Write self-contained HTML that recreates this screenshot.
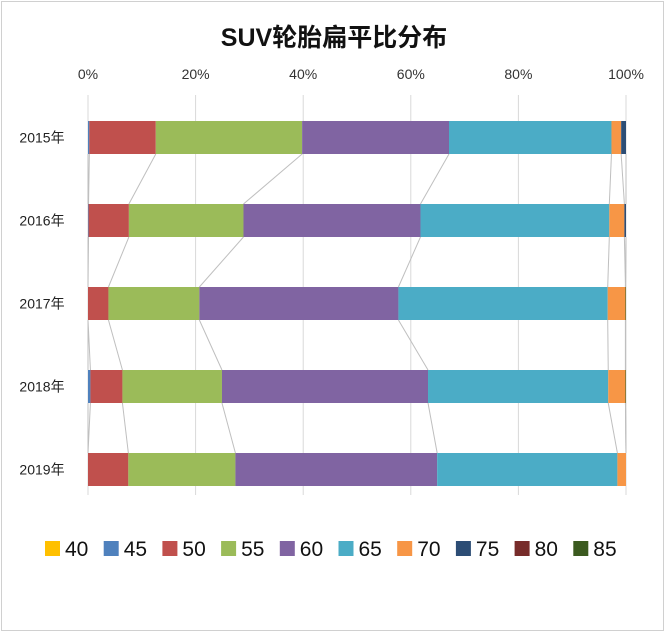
<!DOCTYPE html>
<html><head><meta charset="utf-8"><style>
body{margin:0;background:#fff;}
svg{display:block;font-family:"Liberation Sans","Noto Sans CJK SC",sans-serif;}
</style></head><body>
<svg id="chart" width="668" height="634">
<rect x="1.5" y="1.5" width="662" height="629" fill="#fff" stroke="#d0d0d0"/>
<text x="334" y="46" text-anchor="middle" font-size="25" font-weight="bold" fill="#111">SUV轮胎扁平比分布</text>
<g id="grid"></g><g id="links"></g><g id="bars"></g><g id="legend"></g>
</svg>
<script>
const categories=["2015年","2016年","2017年","2018年","2019年"];
const seriesNames=["40","45","50","55","60","65","70","75","80","85"];
const colors=["#ffc000","#4f81bd","#c0504d","#9bbb59","#8064a2","#4bacc6","#f79646","#2c4d75","#772c2a","#3b5a1f"];
const s40=[0,0,0,0,0];
const s45=[0.25,0.1,0,0.45,0];
const s50=[12.35,7.5,3.8,5.95,7.5];
const s55=[27.2,21.3,16.9,18.5,19.9];
const s60=[27.3,32.9,37.0,38.3,37.5];
const s65=[30.2,35.1,38.9,33.5,33.5];
const s70=[1.8,2.8,3.3,3.2,1.6];
const s75=[0.9,0.3,0,0,0];
const s80=[0,0,0,0,0];
const s85=[0,0,0.1,0.1,0];
const tickLabels=["0%","20%","40%","60%","80%","100%"];
const tickValues=[0,20,40,60,80,100];
const series=[s40,s45,s50,s55,s60,s65,s70,s75,s80,s85];
const NS="http://www.w3.org/2000/svg";
const x0=88,x1=626,yTop=121,step=83,bh=33;
const xs=v=>x0+(x1-x0)*v/100;
const yc=i=>yTop+step*i;
function mk(t,a,p){const e=document.createElementNS(NS,t);for(const k in a)e.setAttribute(k,a[k]);p.appendChild(e);return e;}
const grid=document.getElementById('grid');
tickValues.forEach((v,i)=>{
 const l=mk('line',{x1:xs(v),x2:xs(v),y1:95,y2:495,stroke:'#d9d9d9','stroke-width':1},grid);
 
 
 const t=mk('text',{x:xs(v),y:79,'text-anchor':'middle','font-size':14,fill:'#333'},grid);
 t.textContent=tickLabels[i];
 
 
});
const bars=document.getElementById('bars'),links=document.getElementById('links');
const cums=categories.map((c,i)=>{let acc=0;return series.map(s=>{acc+=s[i];return acc;});});
categories.forEach((c,i)=>{
 const t=mk('text',{x:42,y:yc(i)+bh/2+5,'text-anchor':'middle','font-size':14,fill:'#222'},bars);
 t.textContent=c;
 
 
 let acc=0;
 series.forEach((s,j)=>{
  const v=s[i]; if(v<=0){acc+=v;return;}
  const r=mk('rect',{x:xs(acc),y:yc(i),width:xs(acc+v)-xs(acc),height:bh,fill:colors[j]},bars);
  
  
  acc+=v;
 });
 if(i<categories.length-1){
  cums[i].forEach((cv,j)=>{
   if(j===series.length-1)return;
   const l=mk('line',{x1:xs(cv),y1:yc(i)+bh,x2:xs(cums[i+1][j]),y2:yc(i+1),stroke:'#bfbfbf','stroke-width':1},links);
   
   
  });
 }
});
const lg=document.getElementById('legend');
seriesNames.forEach((n,j)=>{
 const gx=45+58.7*j;
 const r=mk('rect',{x:gx,y:541,width:15,height:15,fill:colors[j]},lg);
 
 
 const t=mk('text',{x:gx+20,y:556,'font-size':21,fill:'#111'},lg);
 t.textContent=n;
 
 
});
</script>
</body></html>
